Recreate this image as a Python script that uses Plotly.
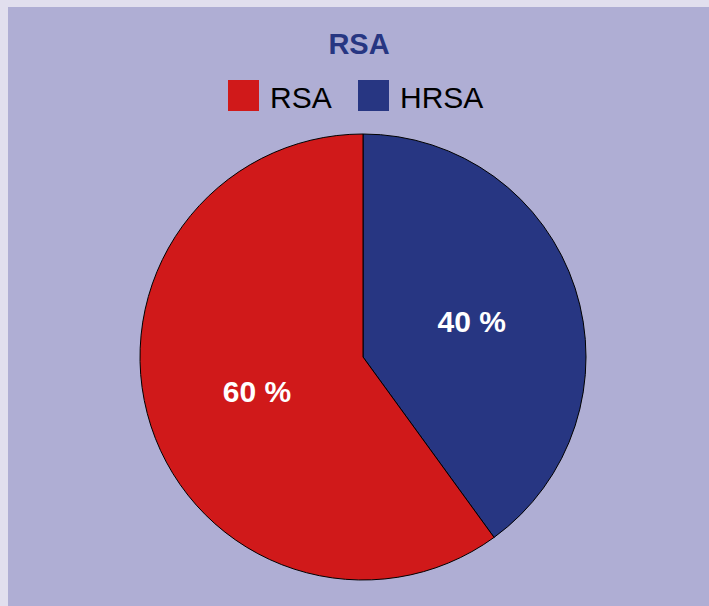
import plotly.graph_objects as go

# Share of RSA vs HRSA
labels = ["RSA", "HRSA"]
values = [60, 40]
colors = ["#D0191A", "#273682"]

W, H = 709, 606
BG_OUTER = "#E1DFEE"
BG_INNER = "#AFAED4"

# HRSA is drawn first, clockwise from 12 o'clock
fig = go.Figure(
    go.Pie(
        labels=labels[::-1],
        values=values[::-1],
        sort=False,
        direction="clockwise",
        rotation=0,
        marker=dict(colors=colors[::-1], line=dict(color="#000000", width=1)),
        texttemplate="%{value} %",
        textposition="inside",
        insidetextorientation="horizontal",
        textfont=dict(family="Liberation Sans", size=30, color="white", weight="bold"),
        hoverinfo="label+percent",
        domain=dict(x=[140 / W, 586 / W], y=[26 / H, 472 / H]),
        showlegend=False,
    )
)

shapes = [
    # inner panel leaving a light strip on the left and top
    dict(type="rect", xref="paper", yref="paper", x0=8 / W, x1=1, y0=0, y1=1 - 7 / H,
         fillcolor=BG_INNER, line=dict(width=0), layer="below"),
]

# legend: colored squares with labels
legend_x = [228, 358]
annotations = []
for lab, col, x in zip(labels, colors, legend_x):
    shapes.append(dict(type="rect", xref="paper", yref="paper",
                       x0=x / W, x1=(x + 31) / W, y0=1 - 111 / H, y1=1 - 80 / H,
                       fillcolor=col, line=dict(width=0)))
    annotations.append(dict(text=lab, xref="paper", yref="paper",
                            x=(x + 40) / W, y=1 - 98 / H, xanchor="left", yanchor="middle",
                            showarrow=False,
                            font=dict(family="Liberation Sans", size=30, color="#000000")))

fig.update_layout(
    width=W,
    height=H,
    margin=dict(l=0, r=0, t=0, b=0),
    paper_bgcolor=BG_OUTER,
    title=dict(text="<b>RSA</b>", x=359 / W, xanchor="center", y=1 - 44 / H, yanchor="middle",
               yref="container",
               font=dict(family="Liberation Sans", size=29, color="#273682")),
    shapes=shapes,
    annotations=annotations,
)

fig.write_html("out.html")
